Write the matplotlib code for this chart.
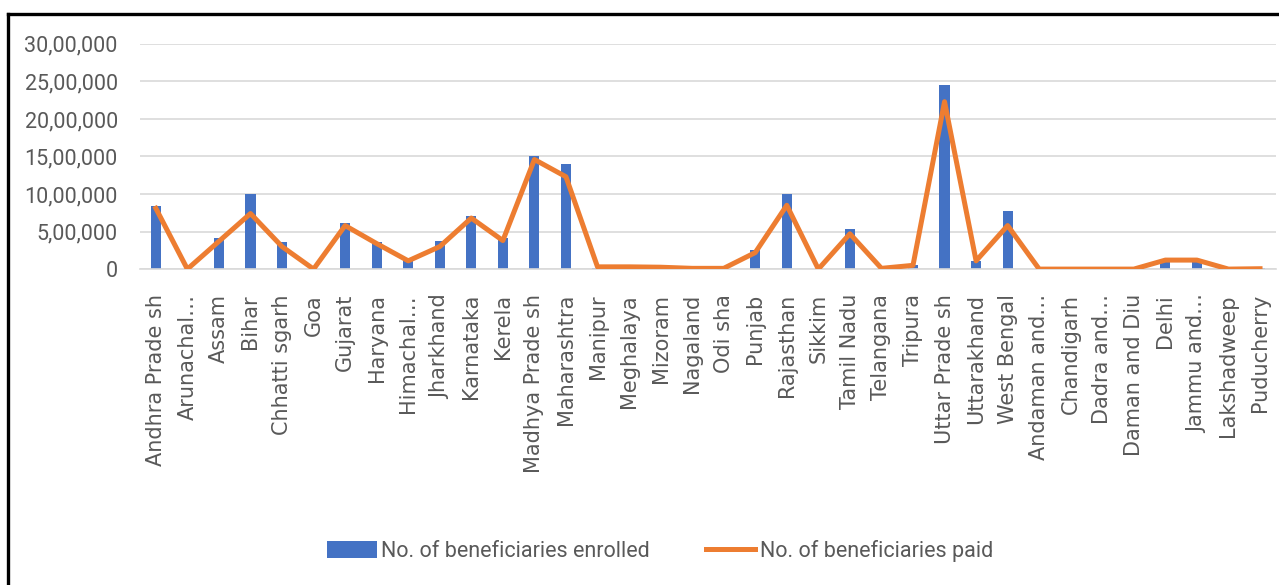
import matplotlib
matplotlib.use("Agg")
import matplotlib.pyplot as plt
import matplotlib.ticker as mtick
from matplotlib.lines import Line2D
import numpy as np

# ---------- Data ----------
states = [
    "Andhra Prade sh", "Arunachal…", "Assam", "Bihar", "Chhatti sgarh", "Goa",
    "Gujarat", "Haryana", "Himachal…", "Jharkhand", "Karnataka", "Kerela",
    "Madhya Prade sh", "Maharashtra", "Manipur", "Meghalaya", "Mizoram",
    "Nagaland", "Odi sha", "Punjab", "Rajasthan", "Sikkim", "Tamil Nadu",
    "Telangana", "Tripura", "Uttar Prade sh", "Uttarakhand", "West Bengal",
    "Andaman and…", "Chandigarh", "Dadra and…", "Daman and Diu", "Delhi",
    "Jammu and…", "Lakshadweep", "Puducherry",
]

enrolled = [
    840000, 5000, 420000, 1000000, 360000, 3000, 620000, 360000, 120000,
    380000, 710000, 420000, 1500000, 1400000, 20000, 20000, 15000, 8000,
    5000, 260000, 1000000, 5000, 530000, 5000, 50000, 2450000, 110000,
    770000, 5000, 5000, 2000, 2000, 110000, 110000, 1000, 15000,
]

paid = [
    810000, 0, 370000, 740000, 300000, 0, 580000, 340000, 110000,
    300000, 680000, 380000, 1460000, 1230000, 30000, 30000, 25000, 10000,
    10000, 220000, 850000, 0, 470000, 10000, 50000, 2230000, 110000,
    580000, 0, 0, 0, 0, 120000, 120000, 0, 5000,
]

yticks = [0, 500000, 1000000, 1500000, 2000000, 2500000, 3000000]

BLUE = "#4472C4"
ORANGE = "#ED7D31"
GRID = "#D9D9D9"
TEXT = "#595959"


def indian_format(v, pos=None):
    """Format a number with Indian digit grouping (e.g. 25,00,000)."""
    s = str(int(round(v)))
    if len(s) <= 3:
        return s
    last3, rest = s[-3:], s[:-3]
    groups = []
    while len(rest) > 2:
        groups.insert(0, rest[-2:])
        rest = rest[:-2]
    if rest:
        groups.insert(0, rest)
    return ",".join(groups) + "," + last3


fig = plt.figure(figsize=(12.79, 5.85), dpi=100)
ax = fig.add_axes([0.1095, 0.540, 0.888, 0.385])

x = np.arange(len(states))
bars = ax.bar(x, enrolled, width=0.32, color=BLUE, zorder=2)
line, = ax.plot(x, paid, color=ORANGE, linewidth=3.6,
                solid_joinstyle="round", zorder=3)

ax.set_xlim(-0.5, len(states) - 0.5)
ax.set_ylim(0, 3000000)
ax.set_yticks(yticks)
ax.yaxis.set_major_formatter(mtick.FuncFormatter(indian_format))
ax.grid(axis="y", color=GRID, linewidth=1.2, zorder=0)
ax.set_axisbelow(True)

for side in ["top", "right", "left"]:
    ax.spines[side].set_visible(False)
ax.spines["bottom"].set_color(GRID)
ax.spines["bottom"].set_linewidth(1.2)

ax.set_xticks(x)
ax.set_xticklabels(states, rotation=90, fontsize=15, color=TEXT,
                   family="DejaVu Sans")
ax.tick_params(axis="x", length=0, pad=18)
ax.tick_params(axis="y", length=0, pad=16, labelcolor=TEXT)
for lbl in ax.get_yticklabels():
    lbl.set_family("Roboto")
    lbl.set_fontsize(15.5)

leg = fig.legend([bars, line],
                 ["No. of beneficiaries enrolled", "No. of beneficiaries paid"],
                 loc="center", bbox_to_anchor=(0.516, 0.058), ncol=2,
                 frameon=False, handlelength=2.3, handleheight=0.8,
                 handletextpad=0.2, columnspacing=2.6,
                 prop={"family": "Roboto", "size": 15.5})
for t in leg.get_texts():
    t.set_color(TEXT)

# outer frame (top and left edge only)
fig.add_artist(Line2D([0.0066, 1.0], [0.976, 0.976], color="black",
                      linewidth=2.4, transform=fig.transFigure))
fig.add_artist(Line2D([0.0066, 0.0066], [0.0, 0.976], color="black",
                      linewidth=2.4, transform=fig.transFigure))

fig.savefig("out.png", dpi=100, facecolor="white")
